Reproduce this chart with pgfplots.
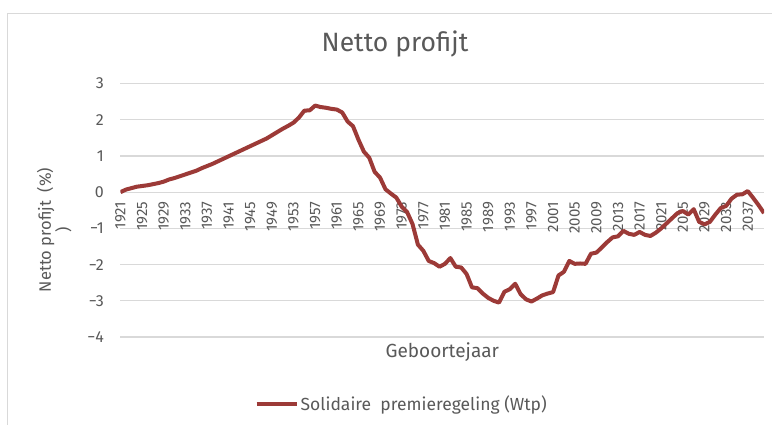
\documentclass[border=0pt]{standalone}
\usepackage{fontspec}
\setmainfont{Fira Sans}
\usepackage{pgfplots}
\usepackage{pgfplotstable}
\pgfplotsset{compat=1.18}
\definecolor{txt}{HTML}{595959}
\definecolor{grd}{HTML}{D9D9D9}
\definecolor{ln}{HTML}{9C3A37}
\pgfplotstableread{
year val
1921 0.00
1922 0.07
1923 0.11
1924 0.15
1925 0.17
1926 0.19
1927 0.22
1928 0.25
1929 0.29
1930 0.35
1931 0.39
1932 0.44
1933 0.49
1934 0.54
1935 0.59
1936 0.66
1937 0.72
1938 0.78
1939 0.85
1940 0.92
1941 0.99
1942 1.06
1943 1.13
1944 1.20
1945 1.27
1946 1.34
1947 1.41
1948 1.48
1949 1.57
1950 1.66
1951 1.75
1952 1.83
1953 1.92
1954 2.06
1955 2.25
1956 2.26
1957 2.39
1958 2.35
1959 2.33
1960 2.30
1961 2.28
1962 2.20
1963 1.95
1964 1.82
1965 1.45
1966 1.12
1967 0.95
1968 0.56
1969 0.40
1970 0.08
1971 -0.04
1972 -0.15
1973 -0.40
1974 -0.55
1975 -0.88
1976 -1.45
1977 -1.62
1978 -1.90
1979 -1.96
1980 -2.06
1981 -1.98
1982 -1.82
1983 -2.06
1984 -2.08
1985 -2.26
1986 -2.63
1987 -2.65
1988 -2.80
1989 -2.92
1990 -3.00
1991 -3.05
1992 -2.75
1993 -2.68
1994 -2.53
1995 -2.82
1996 -2.96
1997 -3.02
1998 -2.94
1999 -2.85
2000 -2.80
2001 -2.76
2002 -2.30
2003 -2.20
2004 -1.90
2005 -1.98
2006 -1.97
2007 -1.98
2008 -1.70
2009 -1.67
2010 -1.53
2011 -1.38
2012 -1.25
2013 -1.22
2014 -1.07
2015 -1.15
2016 -1.18
2017 -1.10
2018 -1.18
2019 -1.21
2020 -1.12
2021 -1.00
2022 -0.86
2023 -0.72
2024 -0.58
2025 -0.52
2026 -0.62
2027 -0.47
2028 -0.82
2029 -0.89
2030 -0.82
2031 -0.62
2032 -0.44
2033 -0.38
2034 -0.18
2035 -0.07
2036 -0.06
2037 0.03
2038 -0.16
2039 -0.36
2040 -0.58
}\datatable
\begin{document}
\begin{tikzpicture}
\path[use as bounding box] (0,0) rectangle (772pt,425pt);
\fill[white] (0,0) rectangle (772pt,425pt);
\draw[grd, line width=1pt] (7pt,-10pt) -- (7pt,411pt) -- (790pt,411pt);
\begin{axis}[
  at={(120.5pt,88pt)}, anchor=south west,
  scale only axis, width=643.5pt, height=253.5pt,
  xmin=1921, xmax=2040, ymin=-4, ymax=3,
  enlargelimits=false,
  axis x line=middle, axis y line=left,
  hide obscured x ticks=false,
  x axis line style={draw=none}, y axis line style={draw=none},
  xtick={1921,1925,...,2037},
  xticklabel style={yshift=-4pt, rotate=90, anchor=east, font=\fontsize{15}{15}\selectfont, text=txt},
  xticklabels={1921,1925,1929,1933,1937,1941,1945,1949,1953,1957,1961,1965,1969,1973,1977,1981,1985,1989,1993,1997,2001,2005,2009,2013,2017,2021,2025,2029,2033,2037},
  ytick={-4,-3,-2,-1,0,1,2,3},
  yticklabels={−4,−3,−2,−1,0,1,2,3},
  yticklabel style={font=\fontsize{16}{16}\selectfont, text=txt, xshift=-11pt},
  tick style={draw=none},
  ymajorgrids, major grid style={grd, line width=1.2pt},
  title={Netto profijt},
  title style={at={(axis description cs:0.4266,1.132)}, anchor=center, font=\fontsize{26.5}{26.5}\selectfont, text=txt},
  xlabel={Geboortejaar},
  xlabel style={at={(axis description cs:0.5,-0.059)}, anchor=center, font=\fontsize{19}{19}\selectfont, text=txt},
  ylabel={Netto profijt\ \ (\%)\\)},
  ylabel style={at={(axis description cs:-0.103,0.422)}, anchor=center, align=center, font=\fontsize{16.5}{17}\selectfont, text=txt},
  legend style={at={(axis description cs:0.437,-0.264)}, anchor=center, draw=none, fill=none, font=\fontsize{17.5}{17.5}\selectfont, text=txt, inner sep=0pt},
  legend image code/.code={\draw[line width=4pt] (0pt,0pt) -- (40pt,0pt);},
  legend cell align=left,
]
\addplot[ln, line width=4pt, line join=round] table[x=year, y=val] {\datatable};
\addlegendentry{Solidaire\ \ premieregeling (Wtp)}
\end{axis}
\end{tikzpicture}
\end{document}
